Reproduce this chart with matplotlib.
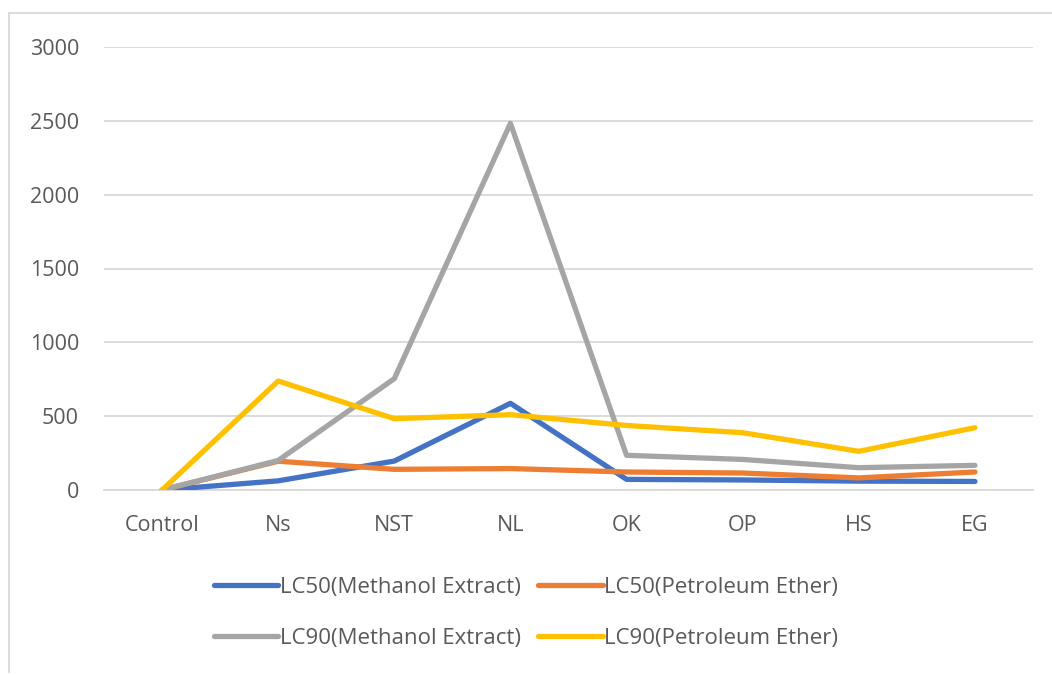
import matplotlib.pyplot as plt
from matplotlib.lines import Line2D

plt.rcParams['font.family'] = ['Open Sans', 'DejaVu Sans']

categories = ['Control', 'Ns', 'NST', 'NL', 'OK', 'OP', 'HS', 'EG']

lc50_methanol = [0, 62, 196, 587, 72, 68, 60, 58]
lc50_petroleum = [0, 195, 140, 145, 122, 115, 82, 122]
lc90_methanol = [0, 200, 754, 2483, 235, 207, 151, 167]
lc90_petroleum = [0, 738, 483, 510, 437, 388, 262, 422]

series = [
    ('LC50(Methanol Extract)', lc50_methanol, '#4472C4'),
    ('LC50(Petroleum Ether)', lc50_petroleum, '#ED7D31'),
    ('LC90(Methanol Extract)', lc90_methanol, '#A5A5A5'),
    ('LC90(Petroleum Ether)', lc90_petroleum, '#FFC000'),
]

fig = plt.figure(figsize=(10.52, 6.75), dpi=100)
ax = fig.add_axes([104 / 1052, 1 - 490 / 675, 929 / 1052, 443 / 675])

x = range(len(categories))
for name, vals, color in series:
    ax.plot(x, vals, color=color, linewidth=3.8, label=name,
            solid_capstyle='round', solid_joinstyle='round', zorder=3)

ax.set_xlim(-0.5, len(categories) - 0.5)
ax.set_ylim(0, 3000)
ax.set_yticks(range(0, 3001, 500))
ax.set_xticks(list(x))
ax.set_xticklabels(categories)
ax.yaxis.grid(True, color='#D9D9D9', linewidth=1.3)
ax.set_axisbelow(True)
for s in ax.spines.values():
    s.set_visible(False)
ax.spines['bottom'].set_visible(True)
ax.spines['bottom'].set_color('#D9D9D9')
ax.spines['bottom'].set_linewidth(1.3)
ax.tick_params(length=0, labelsize=15.5, labelcolor='#595959')
ax.tick_params(axis='x', pad=18)
ax.tick_params(axis='y', pad=18)

# legend below the plot, rows: LC50 pair, LC90 pair
order = [0, 2, 1, 3]
handles = [Line2D([0], [0], color=series[i][2], linewidth=3.8,
                  solid_capstyle='round') for i in order]
labels = [series[i][0] for i in order]
fig.legend(handles, labels, ncol=2, loc='center',
           bbox_to_anchor=(0.5, 1 - 613 / 675), frameon=False,
           fontsize=16, labelcolor='#595959', handlelength=2.9,
           handletextpad=0.05, columnspacing=0.8, labelspacing=1.35)

# chart border
fig.add_artist(Line2D([9 / 1052, 9 / 1052], [0.004, 1 - 13 / 675],
                      transform=fig.transFigure, color='#D9D9D9', linewidth=1.3))
fig.add_artist(Line2D([9 / 1052, 1.0], [1 - 13 / 675, 1 - 13 / 675],
                      transform=fig.transFigure, color='#D9D9D9', linewidth=1.3))

fig.savefig('out.png', dpi=100)
